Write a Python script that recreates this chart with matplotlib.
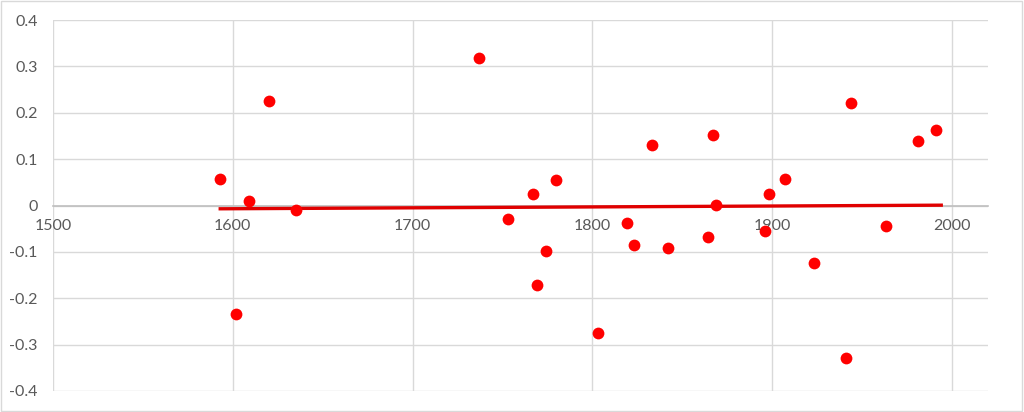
import numpy as np
import matplotlib.pyplot as plt
import matplotlib as mpl

mpl.rcParams['font.family'] = ['Lato', 'DejaVu Sans']

years = [1593, 1602, 1609, 1620, 1635, 1737, 1753, 1767, 1769, 1774, 1780,
         1803, 1819, 1823, 1833, 1842, 1864, 1867, 1869, 1896, 1898, 1907,
         1923, 1941, 1944, 1963, 1981, 1991]
values = [0.058, -0.235, 0.009, 0.226, -0.009, 0.317, -0.030, 0.024, -0.172,
          -0.099, 0.054, -0.274, -0.037, -0.086, 0.131, -0.091, -0.069, 0.151,
          0.002, -0.054, 0.024, 0.058, -0.125, -0.328, 0.220, -0.045, 0.140,
          0.162]
x_ticks = [1500, 1600, 1700, 1800, 1900, 2000]
y_ticks = [-0.4, -0.3, -0.2, -0.1, 0, 0.1, 0.2, 0.3, 0.4]

fig = plt.figure(figsize=(10.24, 4.12), dpi=100)
ax = fig.add_axes([53/1024, 1 - 391/412, (988-53)/1024, (391-20)/412])

# trend line (linear fit, Excel style)
k, b = np.polyfit(years, values, 1)
xs = np.array([min(years), 1994])
ax.plot(xs, k*xs + b, color='#e00000', lw=2.4, zorder=3)

ax.scatter(years, values, s=72, color='#ff0000', zorder=4, linewidths=0)

ax.set_xlim(1500, 2020)
ax.set_ylim(-0.4, 0.4)
ax.set_xticks(x_ticks)
ax.set_yticks(y_ticks)
ax.set_yticklabels(['-0.4', '-0.3', '-0.2', '-0.1', '0', '0.1', '0.2', '0.3', '0.4'])
ax.grid(True, color='#d9d9d9', lw=1)
ax.set_axisbelow(True)

for s in ['top', 'right', 'left']:
    ax.spines[s].set_visible(False)
ax.spines['bottom'].set_position(('data', 0))
ax.spines['bottom'].set_color('#bfbfbf')
ax.spines['bottom'].set_linewidth(1.2)

ax.tick_params(axis='both', length=0, labelsize=11.5, labelcolor='#595959')
ax.tick_params(axis='x', pad=10)
ax.tick_params(axis='y', pad=11)

# outer frame of the chart
fig.patches.append(mpl.patches.Rectangle((0.001, 0.002), 0.997, 0.995,
                                         transform=fig.transFigure, fill=False,
                                         edgecolor='#d9d9d9', lw=1))

fig.savefig('out.png', dpi=100)
